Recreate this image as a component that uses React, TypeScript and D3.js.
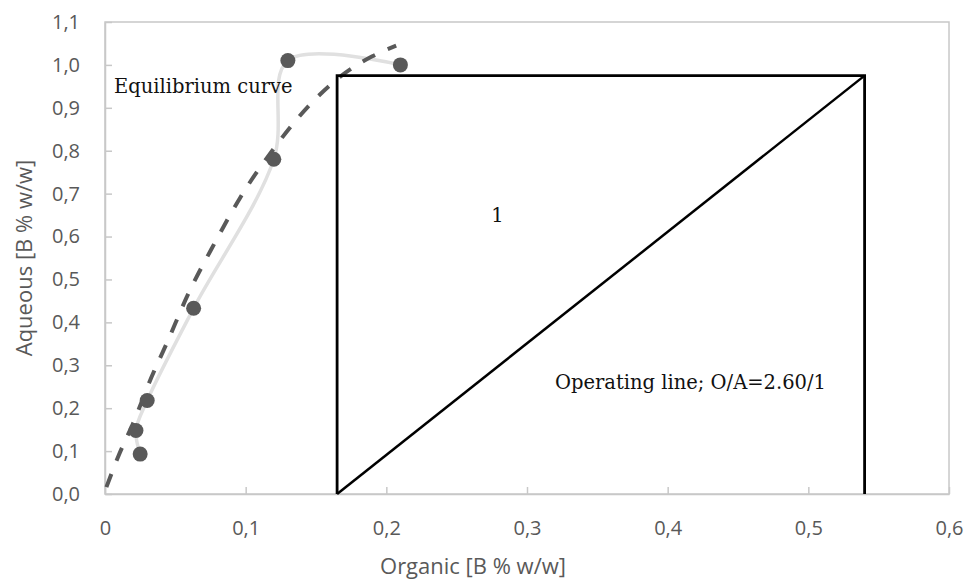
import React, { useEffect, useRef } from "react";
import * as d3 from "d3";

// measured equilibrium points (organic vs aqueous, B % w/w)
const orgValues = [0.025, 0.022, 0.03, 0.063, 0.12, 0.13, 0.21];
const aqValues = [0.093, 0.148, 0.218, 0.433, 0.78, 1.01, 1.0];

// dashed fitted equilibrium curve
const trendOrg = [0.001, 0.01, 0.02, 0.033, 0.044, 0.059, 0.078, 0.096, 0.12, 0.145, 0.167, 0.19, 0.207];
const trendAq = [0.016, 0.092, 0.165, 0.272, 0.352, 0.465, 0.585, 0.69, 0.805, 0.905, 0.972, 1.02, 1.045];

// operating line and the single stage
const opOrg = [0.165, 0.54];
const opAq = [0.0, 0.975];
const stageOrg = [0.165, 0.165, 0.54, 0.54];
const stageAq = [0.0, 0.975, 0.975, 0.0];

const xTicks = [0, 0.1, 0.2, 0.3, 0.4, 0.5, 0.6];
const xTickLabels = ["0", "0,1", "0,2", "0,3", "0,4", "0,5", "0,6"];
const yTicks = [0, 0.1, 0.2, 0.3, 0.4, 0.5, 0.6, 0.7, 0.8, 0.9, 1.0, 1.1];
const yTickLabels = ["0,0", "0,1", "0,2", "0,3", "0,4", "0,5", "0,6", "0,7", "0,8", "0,9", "1,0", "1,1"];

export default function App() {
  const ref = useRef<SVGSVGElement>(null);

  useEffect(() => {
    document.body.style.margin = "0";
    const W = 968;
    const H = 581;
    const margin = { top: 22, right: 19, bottom: 87, left: 105 };
    const width = W - margin.left - margin.right;
    const height = H - margin.top - margin.bottom;

    const root = d3.select(ref.current);
    root.selectAll("*").remove();
    const svg = root.append("g").attr("transform", `translate(${margin.left},${margin.top})`);

    const x = d3.scaleLinear().domain([0, 0.6]).range([0, width]);
    const y = d3.scaleLinear().domain([0, 1.1]).range([height, 0]);

    const axisColor = "#c8c8c8";
    const textColor = "#595959";
    const sans = "'Open Sans', sans-serif";
    const serif = "'DejaVu Serif', serif";

    // plot frame
    svg.append("rect")
      .attr("width", width)
      .attr("height", height)
      .attr("fill", "none")
      .attr("stroke", axisColor)
      .attr("stroke-width", 1.5);

    // axes, ticks pointing inwards
    const yAxis = svg.append("g")
      .call(d3.axisLeft(y)
        .tickValues(yTicks)
        .tickFormat((d, i) => yTickLabels[i])
        .tickSizeInner(-7)
        .tickSizeOuter(0)
        .tickPadding(25));
    const xAxis = svg.append("g")
      .attr("transform", `translate(0,${height})`)
      .call(d3.axisBottom(x)
        .tickValues(xTicks)
        .tickFormat((d, i) => xTickLabels[i])
        .tickSizeInner(-7)
        .tickSizeOuter(0)
        .tickPadding(27));
    [xAxis, yAxis].forEach(a => {
      a.select(".domain").attr("stroke", axisColor).attr("stroke-width", 1.5);
      a.selectAll(".tick line").attr("stroke", axisColor).attr("stroke-width", 1.5);
      a.selectAll(".tick text")
        .attr("fill", textColor)
        .style("font-family", sans)
        .style("font-size", "20px");
    });

    // grey smoothed line through the measured points
    const pts = orgValues.map((v, i) => [x(v), y(aqValues[i])] as [number, number]);
    svg.append("path")
      .attr("d", d3.line().curve(d3.curveCatmullRom.alpha(0.5))(pts))
      .attr("fill", "none")
      .attr("stroke", "#e0e0e0")
      .attr("stroke-width", 3.5);

    // dashed fitted curve
    const tpts = trendOrg.map((v, i) => [x(v), y(trendAq[i])] as [number, number]);
    svg.append("path")
      .attr("d", d3.line().curve(d3.curveMonotoneX)(tpts))
      .attr("fill", "none")
      .attr("stroke", "#595959")
      .attr("stroke-width", 4)
      .attr("stroke-dasharray", "14 14");

    // markers
    svg.selectAll(".pt")
      .data(pts)
      .enter().append("circle")
      .attr("class", "pt")
      .attr("cx", d => d[0])
      .attr("cy", d => d[1])
      .attr("r", 7.5)
      .attr("fill", "#595959");

    // stage box and operating line
    const stage = stageOrg.map((v, i) => [x(v), y(stageAq[i])] as [number, number]);
    svg.append("path")
      .attr("d", d3.line()(stage))
      .attr("fill", "none")
      .attr("stroke", "#000")
      .attr("stroke-width", 2.8)
      .attr("stroke-linejoin", "miter");
    const op = opOrg.map((v, i) => [x(v), y(opAq[i])] as [number, number]);
    svg.append("path")
      .attr("d", d3.line()(op))
      .attr("fill", "none")
      .attr("stroke", "#000")
      .attr("stroke-width", 2.5);

    // annotations
    svg.append("text")
      .attr("x", 9)
      .attr("y", 70.5)
      .style("font-family", serif)
      .style("font-size", "19.5px")
      .attr("fill", "#111")
      .text("Equilibrium curve");
    svg.append("text")
      .attr("x", x(0.279))
      .attr("y", 200)
      .attr("text-anchor", "middle")
      .style("font-family", serif)
      .style("font-size", "19.5px")
      .attr("fill", "#111")
      .text("1");
    svg.append("text")
      .attr("x", 450)
      .attr("y", 367)
      .style("font-family", serif)
      .style("font-size", "19.5px")
      .attr("fill", "#111")
      .text("Operating line; O/A=2.60/1");

    // axis titles
    svg.append("text")
      .attr("x", width / 2 - 54)
      .attr("y", height + 80)
      .attr("text-anchor", "middle")
      .attr("fill", textColor)
      .style("font-family", sans)
      .style("font-size", "22px")
      .text("Organic [B % w/w]");
    svg.append("text")
      .attr("transform", "rotate(-90)")
      .attr("x", -height / 2)
      .attr("y", -73)
      .attr("text-anchor", "middle")
      .attr("fill", textColor)
      .style("font-family", sans)
      .style("font-size", "22px")
      .text("Aqueous [B % w/w]");
  }, []);

  return <svg ref={ref} width={968} height={581} style={{ display: "block", background: "#fff" }} />;
}
